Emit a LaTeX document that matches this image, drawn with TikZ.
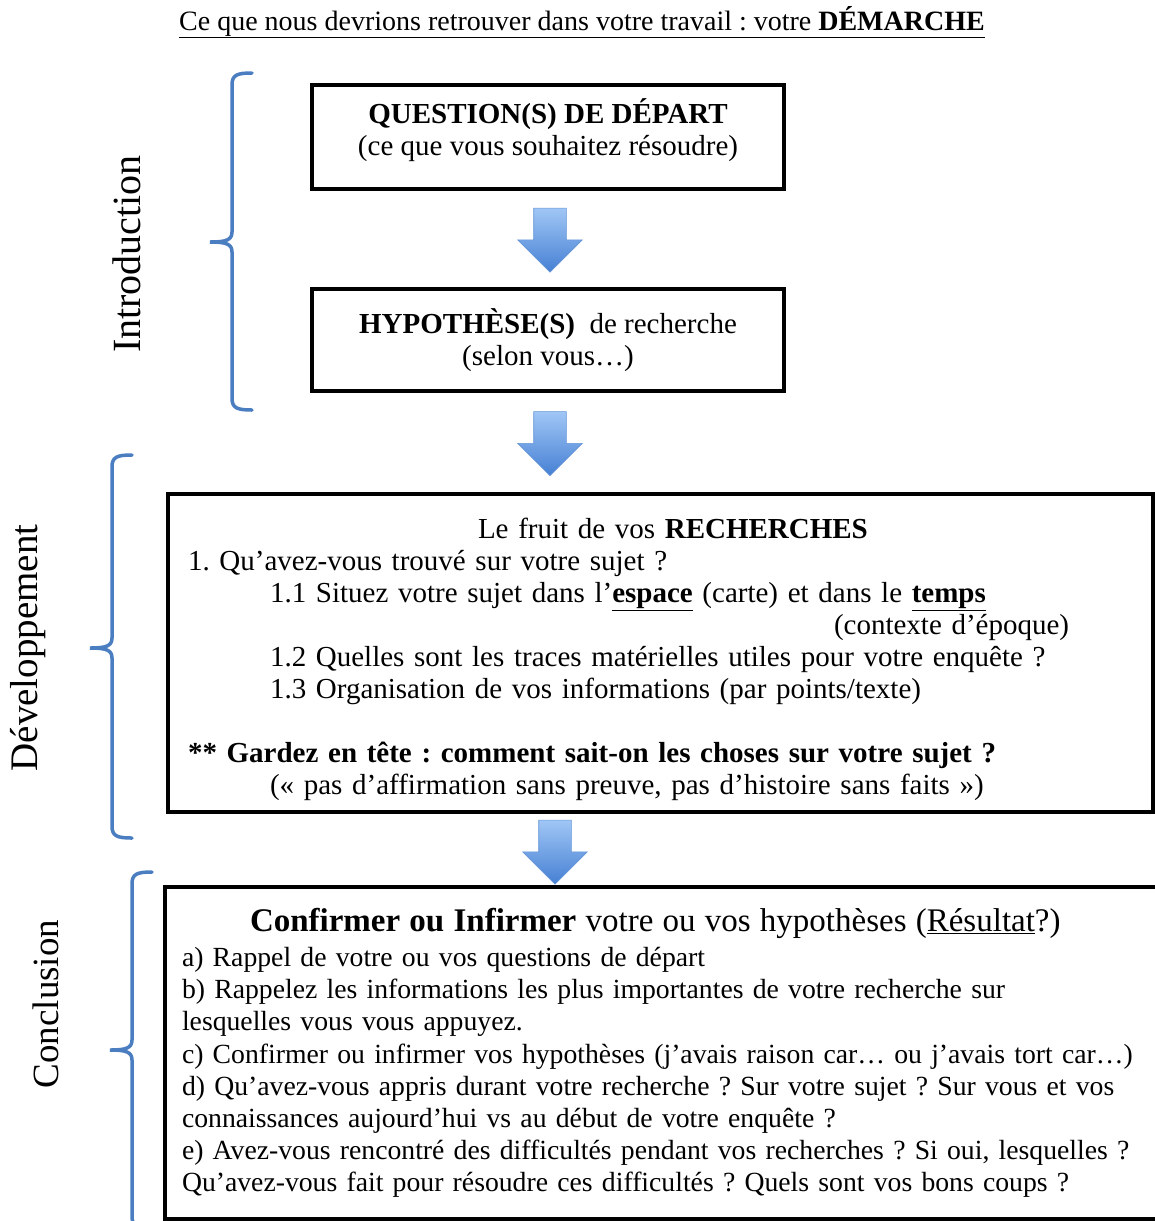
\documentclass[tikz,border=0pt]{standalone}
\usepackage{fontspec}
\setmainfont{Liberation Serif}
\usetikzlibrary{shapes.arrows}
\definecolor{braceblue}{RGB}{74,126,193}
\definecolor{arrowtop}{RGB}{160,198,245}
\definecolor{arrowbot}{RGB}{70,128,212}
\definecolor{arrowedge}{RGB}{100,148,215}

\begin{document}
\frenchspacing
\begin{tikzpicture}[x=1pt,y=-1pt,font=\fontsize{29}{32}\selectfont,
  box/.style={draw,line width=3.5pt,inner sep=0pt},
  downarrow/.style={single arrow,shape border rotate=270,minimum height=64,minimum width=64,
    single arrow head extend=16,single arrow tip angle=90,inner sep=16pt,
    top color=arrowtop,bottom color=arrowbot,draw=arrowedge,line width=0.6pt},
  brace/.style={braceblue,line width=3.5pt,line cap=round},
  side/.style={rotate=90}]
\useasboundingbox (0,0) rectangle (1155,1221);
\node[anchor=base] (title) at (582,30)
  {\fontsize{28}{34}\selectfont\underline{Ce que nous devrions retrouver dans votre travail : votre \textbf{DÉMARCHE}}};
% Introduction
\node[box,minimum width=472,minimum height=104,align=center] (question) at (548,137)
  {\textbf{QUESTION(S) DE DÉPART}\\(ce que vous souhaitez résoudre)\rule[-20pt]{0pt}{0pt}};
\node[box,minimum width=472,minimum height=102,align=center] (hypo) at (548,340)
  {\textbf{HYPOTHÈSE(S)}~ de recherche\\(selon vous…)};
% Développement
\node[box,minimum height=318,text width=945,inner xsep=20pt,align=left] (fruit) at (660.5,653)
  {\hspace*{290pt}\rule{0pt}{33pt}Le fruit de vos \textbf{RECHERCHES}\\
   1. Qu’avez-vous trouvé sur votre sujet ?\\
   \hspace*{82pt}1.1 Situez votre sujet dans l’\underline{\textbf{espace}} (carte) et dans le \underline{\textbf{temps}}\\
   \hspace*{646pt}(contexte d’époque)\\
   \hspace*{82pt}1.2 Quelles sont les traces matérielles utiles pour votre enquête ?\\
   \hspace*{82pt}1.3 Organisation de vos informations (par points/texte)\\[32pt]
   \textbf{** Gardez en tête : comment sait-on les choses sur votre sujet ?}\\
   \hspace*{82pt}(« pas d’affirmation sans preuve, pas d’histoire sans faits »)};
% Conclusion
\node[box,minimum height=332,text width=1100,inner xsep=17pt,align=left,
  font=\fontsize{27.7}{32.2}\selectfont] (result) at (732,1053)
  {\hspace*{68pt}{\fontsize{33}{35}\selectfont\textbf{Confirmer ou Infirmer} votre ou vos hypothèses (\underline{Résultat}?)}\\[3pt]
   a) Rappel de votre ou vos questions de départ\\
   b) Rappelez les informations les plus importantes de votre recherche sur\\
   lesquelles vous vous appuyez.\\
   c) Confirmer ou infirmer vos hypothèses (j’avais raison car… ou j’avais tort car…)\\
   d) Qu’avez-vous appris durant votre recherche ? Sur votre sujet ? Sur vous et vos\\
   connaissances aujourd’hui vs au début de votre enquête ?\\
   e) Avez-vous rencontré des difficultés pendant vos recherches ? Si oui, lesquelles ?\\
   Qu’avez-vous fait pour résoudre ces difficultés ? Quels sont vos bons coups ?};
% block arrows between the boxes
\node[downarrow] (arrowA) at (550,232) {};
\node[downarrow] (arrowB) at (550,435.5) {};
\node[downarrow] (arrowC) at (555,844) {};
% braces: x, top, tip, bottom
\foreach \x/\t/\m/\b in {232/73/242/410,112/455/648/838,132/872/1050/1228}
  \draw[brace] (\x+20,\t) .. controls (\x+5,\t) and (\x,\t+2) .. (\x,\t+12) -- (\x,\m-10)
    .. controls (\x,\m-2) and (\x-6,\m) .. (\x-22,\m)
    .. controls (\x-6,\m) and (\x,\m+2) .. (\x,\m+10) -- (\x,\b-12)
    .. controls (\x,\b-2) and (\x+5,\b) .. (\x+20,\b);
\node[side,font=\fontsize{40}{44}\selectfont] (intro) at (127,254) {Introduction};
\node[side,font=\fontsize{39}{44}\selectfont] (devel) at (28,648) {Développement};
\node[side,font=\fontsize{37}{44}\selectfont] (concl) at (46,1004) {Conclusion};
\end{tikzpicture}
\end{document}
